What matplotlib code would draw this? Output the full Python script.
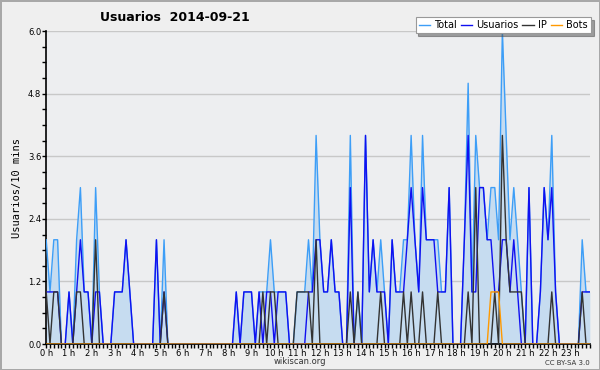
import numpy as np
import matplotlib
matplotlib.use('Agg')
import matplotlib.pyplot as plt
from matplotlib.ticker import MultipleLocator, FixedLocator

# Values per 10-minute slot (144 slots, 0 h .. 23 h 50)
usuarios = [1, 1, 1, 1, 0, 0, 1, 0, 1, 2, 1, 1, 0, 1, 1, 0, 0, 0, 1, 1, 1, 2, 1, 0,
            0, 0, 0, 0, 0, 2, 0, 1, 0, 0, 0, 0, 0, 0, 0, 0, 0, 0, 0, 0, 0, 0, 0, 0,
            0, 0, 1, 0, 1, 1, 1, 0, 1, 0, 1, 1, 0, 1, 1, 1, 0, 0, 0, 0, 0, 1, 1, 2,
            2, 1, 1, 2, 1, 1, 0, 0, 3, 0, 0, 0, 4, 1, 2, 1, 1, 1, 0, 2, 1, 1, 1, 2,
            3, 2, 1, 3, 2, 2, 2, 1, 1, 1, 3, 0, 0, 0, 2, 4, 1, 1, 3, 3, 2, 2, 1, 1,
            2, 2, 1, 2, 1, 0, 0, 3, 0, 0, 1, 3, 2, 3, 1, 0, 0, 0, 0, 0, 0, 1, 1, 1]
ip = [1, 0, 1, 1, 0, 0, 0, 0, 1, 1, 0, 0, 0, 2, 0, 0, 0, 0, 0, 0, 0, 0, 0, 0,
      0, 0, 0, 0, 0, 0, 0, 1, 0, 0, 0, 0, 0, 0, 0, 0, 0, 0, 0, 0, 0, 0, 0, 0,
      0, 0, 0, 0, 0, 0, 0, 0, 0, 1, 0, 1, 1, 0, 0, 0, 0, 0, 1, 1, 1, 1, 0, 2,
      0, 0, 0, 0, 0, 0, 0, 0, 1, 0, 1, 0, 0, 0, 0, 0, 1, 0, 0, 0, 0, 0, 1, 0,
      1, 0, 0, 1, 0, 0, 0, 1, 0, 0, 0, 0, 0, 0, 0, 1, 0, 3, 0, 0, 0, 0, 1, 0,
      4, 2, 1, 1, 1, 1, 0, 0, 0, 0, 0, 0, 0, 1, 0, 0, 0, 0, 0, 0, 0, 1, 0, 0]
bots = [0] * 117 + [1, 1, 1] + [0] * 24
total = [2, 1, 2, 2, 0, 0, 1, 0, 2, 3, 1, 1, 0, 3, 1, 0, 0, 0, 1, 1, 1, 2, 1, 0,
         0, 0, 0, 0, 0, 2, 0, 2, 0, 0, 0, 0, 0, 0, 0, 0, 0, 0, 0, 0, 0, 0, 0, 0,
         0, 0, 1, 0, 1, 1, 1, 0, 1, 1, 1, 2, 1, 1, 1, 1, 0, 0, 1, 1, 1, 2, 1, 4,
         2, 1, 1, 2, 1, 1, 0, 0, 4, 0, 1, 0, 4, 1, 2, 1, 2, 1, 0, 2, 1, 1, 2, 2,
         4, 2, 1, 4, 2, 2, 2, 2, 1, 1, 3, 0, 0, 0, 2, 5, 1, 4, 3, 3, 2, 3, 3, 2,
         6, 4, 2, 3, 2, 1, 0, 3, 0, 0, 1, 3, 2, 4, 1, 0, 0, 0, 0, 0, 0, 2, 1, 1]
hour_labels = [f'{h} h' for h in range(24)]

x = np.arange(len(total)) / 6.0

fig = plt.figure(figsize=(6, 3.7), dpi=100, facecolor='#efefef')
fig.patch.set_edgecolor('#a8a8a8')
fig.patch.set_linewidth(2)
ax = fig.add_axes([0.077, 0.07, 0.906, 0.846], facecolor='#edeef0')

ax.fill_between(x, 0, total, color='#c6dcf0', lw=0, zorder=1)
ax.plot(x, total, color='#3d9ef7', lw=1, label='Total', zorder=3)
ax.plot(x, usuarios, color='#1010f0', lw=1, label='Usuarios', zorder=4)
ax.plot(x, ip, color='#333333', lw=1, label='IP', zorder=5)
ax.plot(x, bots, color='#ff9900', lw=1, label='Bots', zorder=6)

ax.set_xlim(0, 143 / 6.0)
ax.set_ylim(0, 6.0)
ax.xaxis.set_major_locator(FixedLocator(range(24)))
ax.set_xticklabels(hour_labels)
ax.xaxis.set_minor_locator(MultipleLocator(1 / 6.0))
ax.yaxis.set_major_locator(MultipleLocator(1.2))
ax.yaxis.set_minor_locator(MultipleLocator(0.3))
ax.yaxis.set_major_formatter(matplotlib.ticker.FormatStrFormatter('%.1f'))
ax.tick_params(axis='both', which='major', labelsize=6, length=3, width=1,
               pad=0.5, color='black')
ax.tick_params(axis='both', which='minor', length=3, width=1, color='black')
ax.grid(axis='y', color='#c8c8c8', lw=1)
ax.set_axisbelow(True)
for s in ['top', 'right']:
    ax.spines[s].set_visible(False)
ax.spines['left'].set_linewidth(1.2)
ax.spines['bottom'].set_linewidth(1.2)

ax.set_ylabel('Usuarios/10 mins', family='DejaVu Sans Mono', fontsize=7.5,
              labelpad=4)
fig.text(0.167, 0.952, 'Usuarios  2014-09-21', fontsize=9,
         fontweight='bold', va='center')

leg = ax.legend(loc='upper right', bbox_to_anchor=(1.002, 1.045), ncol=4,
                fontsize=7, frameon=True, fancybox=False, shadow=True,
                handlelength=1.2, handletextpad=0.4, columnspacing=0.4,
                borderpad=0.3, borderaxespad=0)
leg.get_frame().set_edgecolor('#999999')
leg.get_frame().set_linewidth(0.8)

fig.text(0.5, 0.022, 'wikiscan.org', fontsize=6, ha='center', va='center',
         color='#333333')
fig.text(0.983, 0.02, 'CC BY-SA 3.0', fontsize=5, ha='right', va='center',
         color='#333333')

plt.savefig('out.png', dpi=100, facecolor=fig.get_facecolor(),
            edgecolor=fig.patch.get_edgecolor())
